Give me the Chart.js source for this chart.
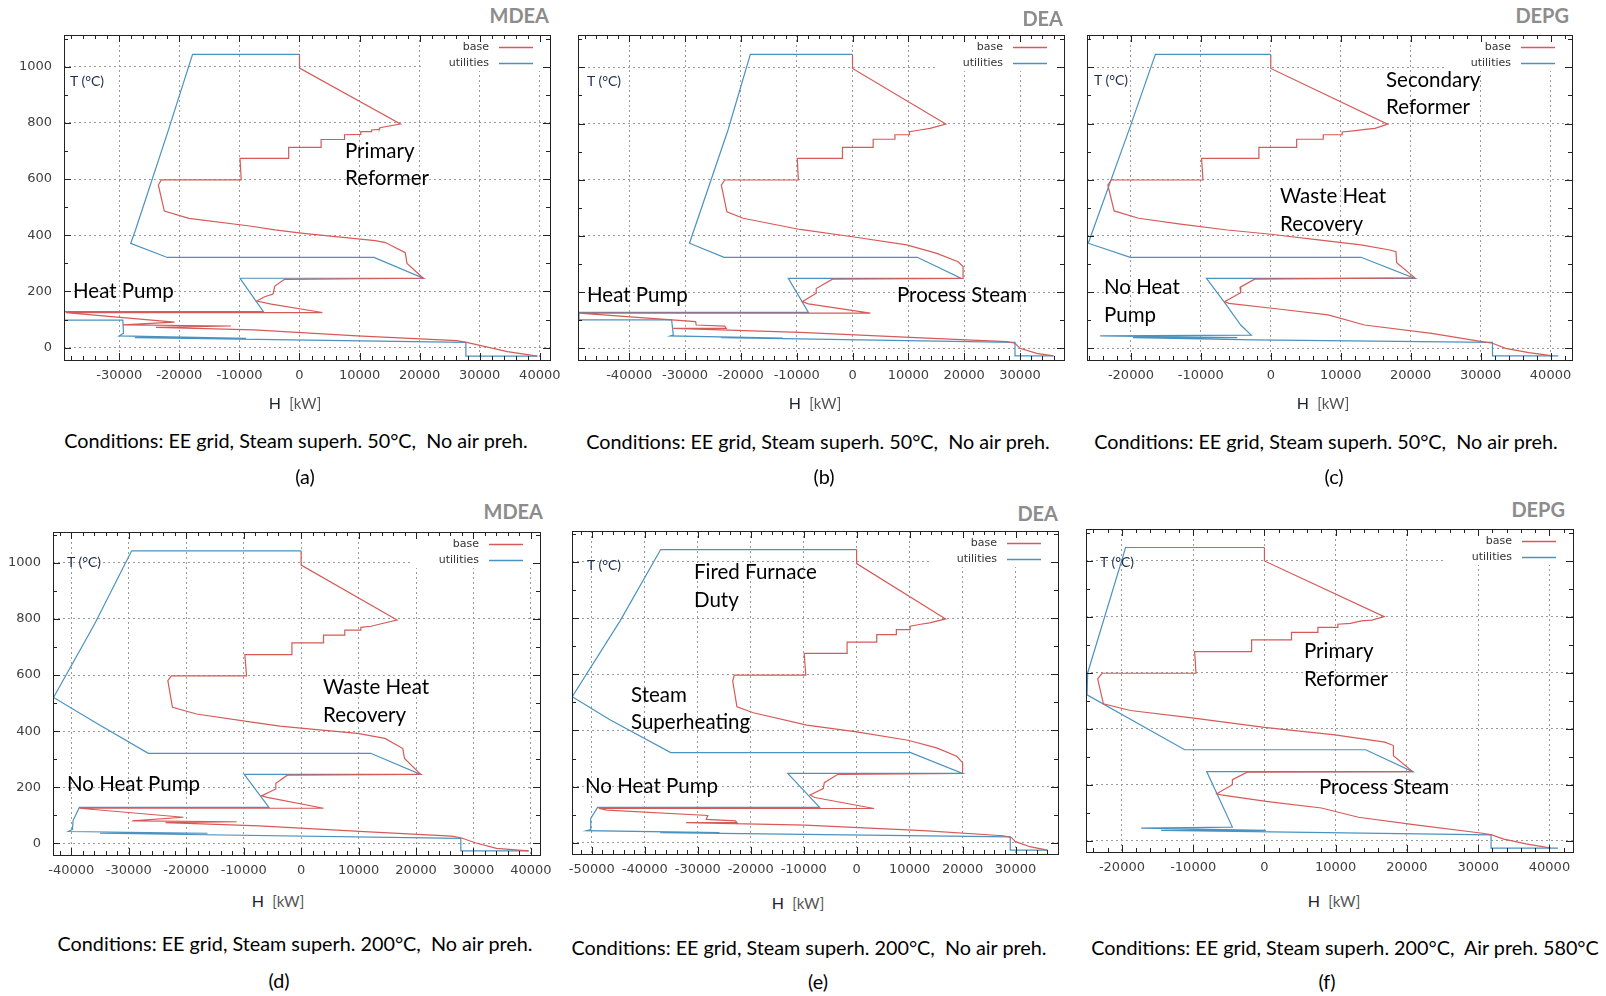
<!DOCTYPE html>
<html>
<head>
<meta charset="utf-8">
<title>Composite curves</title>
<script src="https://cdn.jsdelivr.net/npm/chart.js@4.4.1/dist/chart.umd.min.js"></script>
<style>
    body { margin: 0; background: #fff; }
    #page { position: relative; width: 1606px; height: 996px; overflow: hidden; font-family: Lato, sans-serif; }
    .wrap { position: absolute; }
    .t { position: absolute; white-space: pre; line-height: 1; }
    .title { font-weight: bold; font-size: 20px; color: #8c8c8c; }
    .note { font-size: 20.5px; color: #000; }
    .cond { font-size: 19.8px; color: #000; }
    .tag { font-size: 19.8px; color: #000; }
    .tlab { font-size: 14px; color: #1c2c4c; }
    .hlab { font-size: 16px; color: #1c2333; }
    .hlab span { color: #555; font-size: 15px; }
</style>
</head>
<body>
<div id="page"></div>
<script>
// H [kW] / T [°C] pairs for each composite curve

const baseA = [[0,1045],[0,995],[16800,796],[13400,783],[13300,777],[12000,775],[12000,769],[10200,769],[10200,759],[7500,758],[7500,741],[3600,741],[3600,713],[-1800,713],[-1800,674],[-9900,674],[-9700,597],[-23000,597],[-23500,579],[-22500,486],[-18400,460],[-8300,433],[-4100,419],[650,407],[12600,381],[14300,374],[17600,338],[17900,300],[20600,247],[-2500,243],[-4100,219],[-4400,191],[-5800,181],[-7100,166],[-4700,155],[3800,125],[-38900,125],[-20800,91],[-29400,81],[-11400,77],[-23900,72],[-7600,63],[9600,42],[26200,25],[28000,18],[34600,-14],[39600,-30]];
const utilA = [[0,1044],[-17800,1044],[-22000,763],[-27300,419],[-28100,371],[-22000,321],[12400,321],[20600,247],[-9900,247],[-6000,128],[-39200,128],[-39200,98],[-29400,98],[-29300,51],[-30000,42],[-8900,33],[-27400,36],[27700,19],[27700,-30],[39600,-30]];

const baseB = [[0,1046],[0,996],[16700,798],[13900,783],[12100,777],[10200,771],[10200,760],[7600,760],[7600,744],[3700,744],[3700,715],[-1800,715],[-1800,676],[-9900,676],[-9700,599],[-22900,599],[-23500,581],[-22500,486],[-19600,463],[-9400,423],[0,397],[9700,368],[15100,338],[18900,308],[19800,291],[19800,249],[-3600,246],[-6500,213],[-6500,196],[-9000,166],[-7900,158],[3200,125],[-49000,125],[-28100,95],[-28000,83],[-22900,79],[-22600,71],[-32100,71],[-9400,57],[13300,36],[27600,24],[29100,18],[30000,0],[33000,-18],[36000,-27]];
const utilB = [[0,1046],[-18300,1046],[-22300,777],[-29200,374],[-23000,324],[11600,324],[19500,249],[-11500,249],[-7900,128],[-49000,128],[-49000,101],[-32400,101],[-32100,47],[-32600,44],[-12500,36],[-23600,38],[29100,21],[29100,-27],[36000,-27]];

const baseC = [[0,1046],[0,996],[16700,798],[14900,783],[13500,779],[12100,775],[10200,770],[10200,760],[7500,760],[7500,744],[3700,744],[3700,715],[-1700,715],[-1700,676],[-9900,676],[-9700,599],[-22800,599],[-23300,581],[-22400,489],[-18900,463],[-12900,442],[-6200,421],[0,406],[6200,388],[12900,368],[17000,350],[17900,344],[18000,305],[20600,251],[-2300,246],[-4400,217],[-4300,198],[-6600,166],[-6000,160],[1400,139],[8200,119],[13400,83],[23000,53],[30200,24],[31700,18],[33600,0],[36900,-15],[40300,-27]];
const utilC = [[0,1046],[-16500,1046],[-20100,789],[-26100,374],[-20100,324],[12900,324],[20600,249],[-9200,249],[-6700,166],[-4300,83],[-2800,47],[-24400,44],[-4800,38],[-19700,38],[-2400,30],[31700,21],[31700,-27],[41100,-27]];

const baseD = [[0,1043],[0,992],[16700,796],[13600,781],[12200,774],[10400,770],[10400,760],[7600,760],[7600,742],[3900,742],[3900,715],[-1600,715],[-1600,673],[-9800,673],[-9500,597],[-22600,597],[-23200,580],[-22400,485],[-18200,461],[-8900,433],[-3700,418],[400,410],[9800,392],[14600,374],[17700,338],[18000,303],[20800,246],[-2400,243],[-4400,214],[-4400,194],[-6900,169],[-5900,164],[3900,125],[-38600,125],[-20500,93],[-29400,80],[-11200,77],[-23600,74],[-7300,62],[11000,42],[26200,26],[27800,20],[30300,2],[34000,-18],[39600,-27]];
const utilD = [[0,1043],[-29500,1043],[-35900,784],[-43100,520],[-35600,428],[-26600,321],[12100,321],[20800,246],[-9900,246],[-5600,128],[-38600,128],[-39700,81],[-39800,50],[-40500,42],[-16300,36],[-35000,36],[27800,18],[27800,-27],[39600,-27]];

const baseE = [[0,1044],[0,994],[16800,797],[13800,783],[12100,778],[10100,771],[10100,759],[7500,759],[7500,741],[3800,741],[3800,714],[-1800,714],[-1800,674],[-9900,674],[-9600,597],[-23100,597],[-23400,576],[-22600,484],[-19500,463],[-9400,419],[0,395],[9700,365],[15100,338],[18900,308],[20000,285],[20000,247],[-3600,243],[-6100,214],[-6300,193],[-8800,170],[-7900,161],[3300,122],[-48700,122],[-47100,116],[-28100,97],[-28400,83],[-22900,78],[-22600,72],[-32200,72],[-9700,63],[12600,43],[27700,25],[29200,19],[30000,4],[32700,-14],[36000,-26]];
const utilE = [[0,1044],[-37000,1044],[-44600,792],[-53700,520],[-46500,437],[-35100,321],[10200,321],[20000,247],[-13000,247],[-7000,126],[-48900,126],[-50200,87],[-50200,47],[-51000,43],[-25900,36],[-37100,36],[29000,21],[29000,-26],[36000,-26]];

const baseF = [[0,1047],[0,999],[16800,800],[15100,788],[13600,785],[12100,776],[10300,773],[10300,762],[7500,762],[7500,744],[3800,744],[3800,717],[-1800,717],[-1800,675],[-9800,675],[-9600,598],[-22800,598],[-23400,578],[-22600,489],[-18800,465],[-9900,438],[0,405],[9900,378],[16900,352],[18100,340],[18100,304],[20800,247],[-2400,245],[-4500,218],[-4500,200],[-6700,168],[-6100,164],[500,140],[8000,117],[13200,84],[21200,57],[30600,27],[31900,21],[33600,6],[36700,-11],[40200,-26]];
const utilF = [[0,1047],[-19500,1047],[-19800,1020],[-24800,600],[-24900,521],[-11200,325],[14200,325],[20800,247],[-8100,247],[-4500,49],[-17300,45],[200,37],[-14500,37],[31800,21],[31800,-26],[41200,-26]];

const seriesNames = ['base', 'utilities'];
const seriesColors = ['#d65a57', '#4a92c0'];

// tick spacing: labelled H every 10000 kW, T every 200 °C, minor marks in between
const hStep = 10000, hMinor = 2000;
const tStep = 200, tMinor = 100;

const condLow = 'Conditions: EE grid, Steam superh. 50°C,  No air preh.';
const condHigh = 'Conditions: EE grid, Steam superh. 200°C,  No air preh.';
const condAir = 'Conditions: EE grid, Steam superh. 200°C,  Air preh. 580°C';

// plot = [left, top, right, bottom] of the framed area on the page
const panels = [
    { base: baseA, util: utilA, plot: [64, 35, 550, 360], x: [-39200, 41700], y: [-44, 1113], yLabels: true,
      title: ['MDEA', 549, 23], tl: [70, 86], hl: [295, 409],
      notes: [['Primary', 345, 158], ['Reformer', 345, 185], ['Heat Pump', 73, 298]],
      cond: [condLow, 296, 449], tag: ['(a)', 305, 485] },
    { base: baseB, util: utilB, plot: [578, 35, 1064, 360], x: [-49170, 37880], y: [-41.5, 1115], yLabels: false,
      title: ['DEA', 1063, 26], tl: [587, 86], hl: [815, 409],
      notes: [['Heat Pump', 587, 302], ['Process Steam', 897, 302]],
      cond: [condLow, 818, 450], tag: ['(b)', 824, 485] },
    { base: baseC, util: utilC, plot: [1087, 35, 1572, 360], x: [-26280, 43070], y: [-41.5, 1115], yLabels: false,
      title: ['DEPG', 1569, 23], tl: [1094, 85], hl: [1323, 409],
      notes: [['Secondary', 1386, 87], ['Reformer', 1386, 114], ['Waste Heat', 1280, 203],
              ['Recovery', 1280, 231], ['No Heat', 1104, 294], ['Pump', 1104, 322]],
      cond: [condLow, 1326, 450], tag: ['(c)', 1334, 485] },
    { base: baseD, util: utilD, plot: [53, 532, 540, 855], x: [-43190, 41580], y: [-41.6, 1110], yLabels: true,
      title: ['MDEA', 543, 519], tl: [67, 567], hl: [278, 907],
      notes: [['Waste Heat', 323, 694], ['Recovery', 323, 722], ['No Heat Pump', 67, 791]],
      cond: [condHigh, 295, 952], tag: ['(d)', 279, 989] },
    { base: baseE, util: utilE, plot: [572, 531, 1058, 854], x: [-53740, 38020], y: [-40, 1110], yLabels: false,
      title: ['DEA', 1058, 521], tl: [587, 570], hl: [798, 909],
      notes: [['Fired Furnace', 694, 579], ['Duty', 694, 607], ['Steam', 631, 702],
              ['Superheating', 631, 729], ['No Heat Pump', 585, 793]],
      cond: [condHigh, 809, 956], tag: ['(e)', 818, 990] },
    { base: baseF, util: utilF, plot: [1086, 529, 1573, 852], x: [-25040, 43300], y: [-40, 1113], yLabels: false,
      title: ['DEPG', 1565, 517], tl: [1100, 567], hl: [1334, 907],
      notes: [['Primary', 1304, 658], ['Reformer', 1304, 686], ['Process Steam', 1319, 794]],
      cond: [condAir, 1345, 956], tag: ['(f)', 1327, 990] }
];

const YW = 56, XH = 34, PT = 6, PR = 30;

Chart.defaults.font.family = 'DejaVu Sans';
Chart.defaults.font.size = 13;
Chart.defaults.color = '#404040';

// ticks on round multiples of the step only, never at the range ends
function roundTicks(step) {
    return scale => {
        const out = [];
        for (let v = Math.ceil(scale.min / step) * step; v <= scale.max; v += step) out.push({ value: v });
        scale.ticks = out;
    };
}

// gnuplot-style frame: box, inward ticks on all sides, opaque key top right
const framePlugin = {
    id: 'frame',
    beforeDatasetsDraw(chart) {
        const a = chart.chartArea, ctx = chart.ctx;
        ctx.save();
        ctx.fillStyle = '#fff';
        ctx.fillRect(a.right - 128, a.top, 128, 36);
        ctx.restore();
    },
    afterDraw(chart) {
        const { ctx, chartArea: a, scales: { x, y } } = chart;
        ctx.save();
        ctx.strokeStyle = '#222';
        ctx.lineWidth = 1;
        ctx.beginPath();
        for (let v = Math.ceil(x.min / hMinor) * hMinor; v <= x.max; v += hMinor) {
            const px = Math.round(x.getPixelForValue(v)) + 0.5;
            const len = v % hStep === 0 ? 7 : 4;
            ctx.moveTo(px, a.bottom); ctx.lineTo(px, a.bottom - len);
            ctx.moveTo(px, a.top); ctx.lineTo(px, a.top + len);
        }
        for (let v = Math.ceil(y.min / tMinor) * tMinor; v <= y.max; v += tMinor) {
            const py = Math.round(y.getPixelForValue(v)) + 0.5;
            const len = v % tStep === 0 ? 7 : 4;
            ctx.moveTo(a.left, py); ctx.lineTo(a.left + len, py);
            ctx.moveTo(a.right, py); ctx.lineTo(a.right - len, py);
        }
        ctx.stroke();
        ctx.strokeRect(Math.round(a.left) + 0.5, Math.round(a.top) + 0.5,
            Math.round(a.right - a.left), Math.round(a.bottom - a.top));

        // key
        ctx.font = '11px "DejaVu Sans"';
        ctx.textAlign = 'right';
        ctx.textBaseline = 'middle';
        chart.data.datasets.forEach((ds, i) => {
            const ly = a.top + 12 + i * 16;
            ctx.fillStyle = '#333';
            ctx.fillText(ds.label, a.right - 61, ly);
            ctx.strokeStyle = ds.borderColor;
            ctx.lineWidth = 1.3;
            ctx.beginPath();
            ctx.moveTo(a.right - 51, ly + 0.5);
            ctx.lineTo(a.right - 17, ly + 0.5);
            ctx.stroke();
        });
        ctx.restore();
    }
};

const page = document.getElementById('page');

function put(text, x, base, cls, size, align) {
    const el = document.createElement('div');
    el.className = 't ' + cls;
    el.textContent = text;
    el.style.left = x + 'px';
    el.style.top = (base - 0.887 * size) + 'px';
    if (align === 'center') el.style.transform = 'translateX(-50%)';
    if (align === 'right') el.style.transform = 'translateX(-100%)';
    page.appendChild(el);
    return el;
}

function toPoints(pairs) {
    return pairs.map(p => ({ x: p[0], y: p[1] }));
}

function drawPanel(p) {
    const [left, top, right, bottom] = p.plot;
    const w = right - left, h = bottom - top;

    const wrap = document.createElement('div');
    wrap.className = 'wrap';
    wrap.style.left = (left - YW) + 'px';
    wrap.style.top = (top - PT) + 'px';
    const canvas = document.createElement('canvas');
    canvas.width = w + YW + PR;
    canvas.height = h + PT + XH;
    wrap.appendChild(canvas);
    page.appendChild(wrap);

    const chart = new Chart(canvas, {
        type: 'scatter',
        data: {
            datasets: [p.base, p.util].map((s, i) => ({
                label: seriesNames[i],
                data: toPoints(s),
                showLine: true,
                borderColor: seriesColors[i],
                borderWidth: 1.2,
                pointRadius: 0,
                tension: 0
            }))
        },
        options: {
            responsive: false,
            animation: false,
            layout: { padding: { left: 0, top: PT, right: PR, bottom: 0 } },
            plugins: { legend: { display: false }, tooltip: { enabled: false } },
            scales: {
                x: {
                    type: 'linear',
                    min: p.x[0], max: p.x[1],
                    afterBuildTicks: roundTicks(hStep),
                    ticks: { autoSkip: false, padding: 8, maxRotation: 0, callback: v => String(v) },
                    grid: { color: '#9a9a9a', drawTicks: false },
                    border: { display: false, dash: [2, 3] },
                    afterFit: s => { s.height = XH; s.paddingLeft = 0; s.paddingRight = 0; }
                },
                y: {
                    type: 'linear',
                    min: p.y[0], max: p.y[1],
                    afterBuildTicks: roundTicks(tStep),
                    ticks: { autoSkip: false, padding: 12, display: p.yLabels, callback: v => String(v) },
                    grid: { color: '#9a9a9a', drawTicks: false },
                    border: { display: false, dash: [2, 3] },
                    afterFit: s => { s.width = YW; s.paddingTop = 0; s.paddingBottom = 0; }
                }
            }
        },
        plugins: [framePlugin]
    });

    // keep the framed area exactly where it belongs on the page
    const a = chart.chartArea;
    wrap.style.left = (left - a.left) + 'px';
    wrap.style.top = (top - a.top) + 'px';

    put(p.title[0], p.title[1], p.title[2], 'title', 20, 'right');
    put('T (°C)', p.tl[0], p.tl[1], 'tlab', 14);
    const hl = put('', p.hl[0], p.hl[1], 'hlab', 16, 'center');
    hl.innerHTML = 'H  <span>[kW]</span>';
    p.notes.forEach(n => put(n[0], n[1], n[2], 'note', 20.5));
    put(p.cond[0], p.cond[1], p.cond[2], 'cond', 19.8, 'center');
    put(p.tag[0], p.tag[1], p.tag[2], 'tag', 19.8, 'center');
}

panels.forEach(drawPanel);
</script>
</body>
</html>
